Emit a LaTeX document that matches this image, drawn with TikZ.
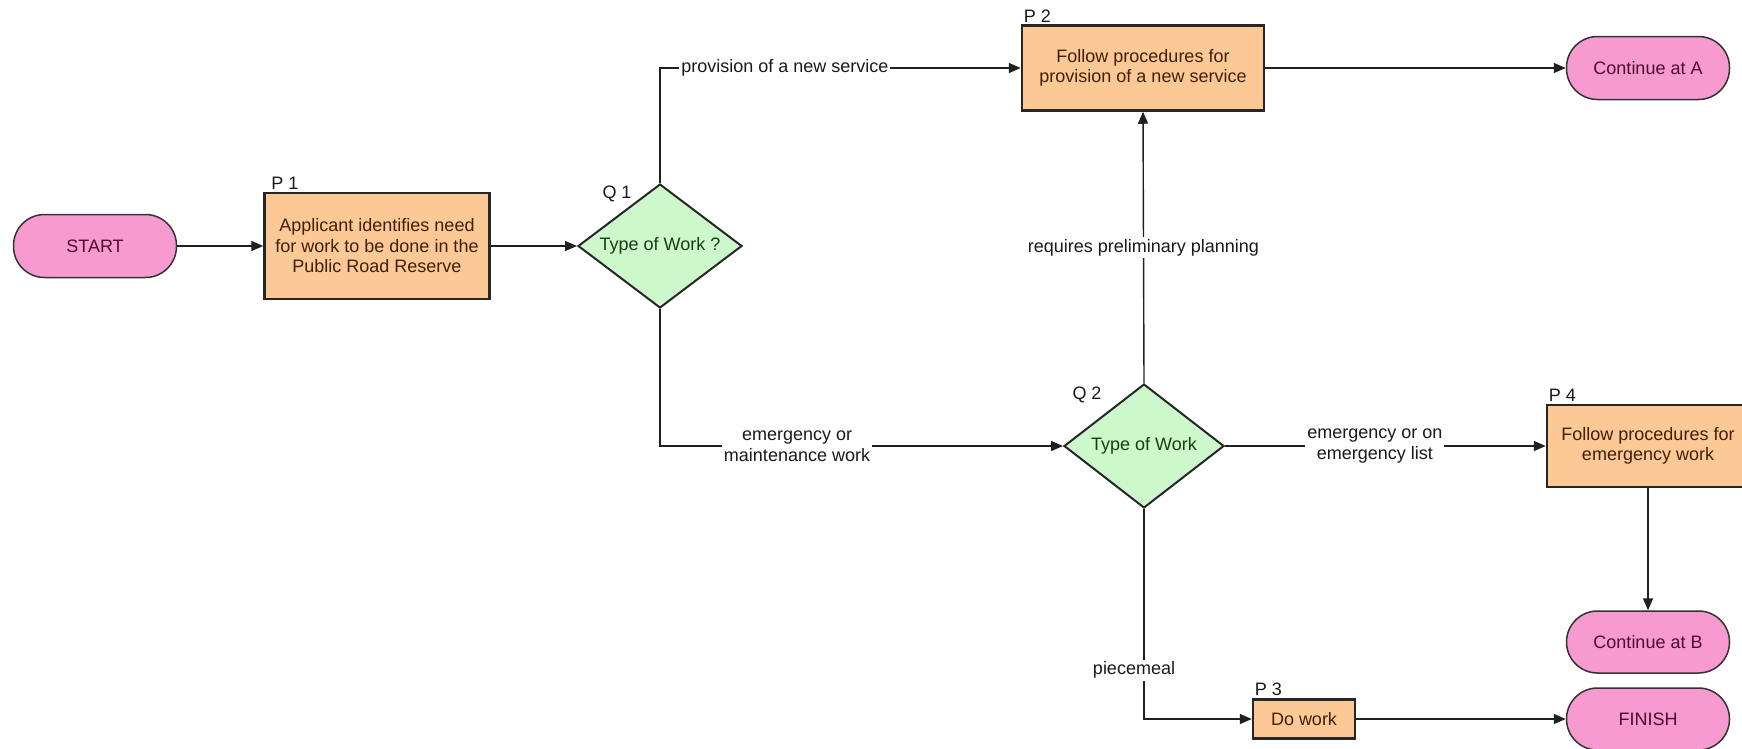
\documentclass[tikz,border=0pt]{standalone}
\usepackage{fontspec}
\setmainfont{Liberation Sans}
\usetikzlibrary{shapes.geometric,arrows.meta}
\definecolor{pinkfill}{HTML}{F69ACF}
\definecolor{orangefill}{HTML}{FBC896}
\definecolor{greenfill}{HTML}{CDF8CB}
\definecolor{termtext}{HTML}{4E0C2E}
\definecolor{boxtext}{HTML}{3E2208}
\definecolor{diatext}{HTML}{173D17}
\definecolor{linec}{HTML}{202020}
\begin{document}
\begin{tikzpicture}[x=1pt,y=-1pt,
  every node/.style={font=\fontsize{18}{20.5}\selectfont},
  term/.style={rectangle, rounded corners=31pt, draw=black!80, line width=1.5pt, fill=pinkfill, text=termtext, minimum width=163pt, minimum height=63pt, inner sep=0pt},
  procbox/.style={rectangle, draw=black!85, line width=2.5pt, fill=orangefill, text=boxtext, align=center, inner sep=0pt},
  decision/.style={diamond, draw=black!85, line width=2pt, fill=greenfill, text=diatext, inner sep=0pt},
  conn/.style={draw=linec, line width=1.4pt, -{Triangle[length=12pt,width=10pt]}},
  lbl/.style={fill=white, inner sep=2pt, align=center, text=black!90},
  tag/.style={inner sep=0pt, anchor=south west, text=black!90}
]
\useasboundingbox (0,0) rectangle (1742,748);

% nodes
\node[term] (start) at (95,246) {START};
\node[procbox, minimum width=225pt, minimum height=106pt] (p1) at (377,246) {Applicant identifies need\\for work to be done in the\\Public Road Reserve};
\node[decision, minimum width=164pt, minimum height=124pt] (q1) at (660,246) {\makebox[0pt]{Type of Work ?}};
\node[procbox, minimum width=242pt, minimum height=85pt] (p2) at (1143,68) {Follow procedures for\\provision of a new service};
\node[term] (conta) at (1648,68) {Continue at A};
\node[decision, minimum width=160pt, minimum height=124pt] (q2) at (1144,446) {\makebox[0pt]{Type of Work}};
\node[procbox, minimum width=202pt, minimum height=82pt] (p4) at (1648,446) {Follow procedures for\\emergency work};
\node[term, minimum height=62pt] (contb) at (1648,642) {Continue at B};
\node[procbox, minimum width=102pt, minimum height=39pt] (p3) at (1304,719) {Do work};
\node[term, minimum height=62pt] (finish) at (1648,719) {FINISH};

% tags
\node[tag, xshift=8pt, yshift=2pt] (tp1) at (p1.north west) {P 1};
\node[tag, xshift=3pt, yshift=2pt] (tp2) at (p2.north west) {P 2};
\node[tag, xshift=3pt, yshift=2pt] (tp3) at (p3.north west) {P 3};
\node[tag, xshift=3pt, yshift=2pt] (tp4) at (p4.north west) {P 4};
\node[inner sep=0pt, text=black!90] (tq1) at ([xshift=-43pt,yshift=52pt]q1.center) {Q 1};
\node[inner sep=0pt, text=black!90] (tq2) at ([xshift=-57pt,yshift=51pt]q2.center) {Q 2};

% connectors
\draw[conn] (start.east) -- (p1.west);
\draw[conn] (p1.east) -- (q1.west);
\draw[conn] (q1.north) |- node[lbl, pos=0.673] (l1) {provision of a new service} (p2.west);
\draw[conn] (p2.east) -- (conta.west);
\draw[conn] (q1.south) |- node[lbl, pos=0.67] (l2) {emergency or\\maintenance work} (q2.west);
\draw[conn] (q2.north) -- node[lbl, pos=0.5] (l3) {requires preliminary planning} (p2.south);
\draw[conn] (q2.east) -- node[lbl, pos=0.467] (l4) {emergency or on\\emergency list} (p4.west);
\draw[conn] (p4.south) -- (contb.north);
\draw[conn] (q2.south) |- node[lbl, pos=0.384, xshift=-10pt] (l5) {piecemeal} (p3.west);
\draw[conn] (p3.east) -- (finish.west);
\end{tikzpicture}
\end{document}
